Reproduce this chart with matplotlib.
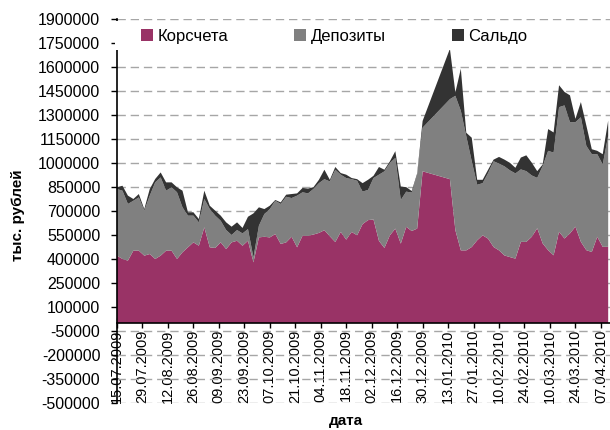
import numpy as np
import pandas as pd
import matplotlib
matplotlib.use("Agg")
import matplotlib.pyplot as plt
from matplotlib.patches import Patch, Rectangle
from matplotlib.ticker import FuncFormatter
import matplotlib.dates as mdates

plt.rcParams['font.family'] = ['Liberation Sans', 'DejaVu Sans']

# dates: every 3 days, new year holidays have no data
all_dates = pd.date_range('2009-07-15', '2010-04-11', freq='3D')
dates = all_dates[(all_dates <= '2009-12-30') | (all_dates >= '2010-01-13')]

# stacked tops, thousands of rubles
korr_top = [421, 400, 390, 452, 452, 421, 431, 400, 421, 452, 452, 400, 442, 473, 504, 483,
            598, 473, 469, 504, 462, 504, 514, 483, 514, 379, 535, 539, 535, 556, 494, 504,
            539, 473, 546, 545, 553, 563, 580, 542, 506, 569, 521, 569, 548, 618, 643, 647,
            513, 469, 548, 590, 496, 601, 575, 590, 948,
            899, 580, 454, 454, 475, 517, 548, 527, 475, 454, 422, 412, 402, 507, 507, 539,
            592, 497, 455, 423, 570, 528, 560, 602, 507, 455, 444, 539, 476, 476]
dep_top = [837, 827, 744, 764, 785, 702, 796, 879, 910, 827, 848, 817, 723, 671, 671, 629,
           775, 712, 671, 639, 581, 550, 581, 560, 587, 410, 608, 681, 712, 764, 744, 789,
           781, 796, 817, 810, 838, 874, 899, 885, 958, 927, 906, 899, 889, 821, 832, 906,
           927, 948, 1000, 1032, 769, 821, 815, 927, 1221,
           1399, 1420, 1326, 1168, 1011, 864, 874, 937, 1011, 996, 979, 954, 935, 960, 949, 922,
           907, 981, 1076, 1065, 1349, 1360, 1255, 1255, 1286, 1107, 1055, 1055, 991, 1170]
total_top = [848, 858, 796, 775, 806, 712, 837, 900, 941, 879, 879, 848, 827, 692, 692, 650,
             827, 733, 702, 671, 629, 602, 629, 594, 664, 685, 723, 712, 733, 769, 754, 802,
             806, 810, 844, 840, 849, 895, 958, 895, 975, 937, 927, 906, 899, 874, 895, 920,
             975, 958, 1010, 1074, 853, 849, 825, 935, 1263,
             1714, 1441, 1589, 1189, 1158, 895, 895, 958, 1021, 1038, 1021, 1001, 970, 1034, 1048, 1002,
             949, 991, 1212, 1191, 1486, 1444, 1423, 1276, 1381, 1234, 1086, 1076, 1055, 1265]

korr = [k * 1000 for k in korr_top]
dep = [(d - k) * 1000 for d, k in zip(dep_top, korr_top)]
saldo = [(t - d) * 1000 for t, d in zip(total_top, dep_top)]

labels = ['Корсчета', 'Депозиты', 'Сальдо']
colors = ['#993366', '#808080', '#333333']
tick_dates = pd.date_range('2009-07-15', '2010-04-07', freq='14D')
y_ticks = np.arange(-500000, 1900001, 150000)

fig = plt.figure(figsize=(6.1, 4.3), dpi=100)
ax = fig.add_axes([117 / 610, 1 - 403 / 430, 493 / 610, 384 / 430])

ax.stackplot(dates, korr, dep, saldo, colors=colors, linewidth=0)

ax.set_ylim(-500000, 1900000)
ax.set_xlim(pd.Timestamp('2009-07-15'), pd.Timestamp('2010-04-12'))
ax.set_yticks(y_ticks)
ax.yaxis.set_major_formatter(FuncFormatter(lambda v, p: f'{v:.0f}'))
ax.set_xticks(tick_dates)
ax.xaxis.set_major_formatter(mdates.DateFormatter('%d.%m.%Y'))

ax.grid(axis='y', color='#a6a6a6', linestyle=(0, (6, 3.5)), linewidth=1)
ax.set_axisbelow(True)

for s in ['top', 'right']:
    ax.spines[s].set_visible(False)
ax.spines['bottom'].set_position(('data', 0))
ax.spines['bottom'].set_linewidth(1.2)
ax.spines['left'].set_linewidth(1.2)

ax.tick_params(axis='y', direction='out', length=4, width=1, pad=8, labelsize=11.5)
ax.tick_params(axis='x', direction='inout', length=7, width=1, pad=1, labelsize=10.5,
               labelrotation=90)

# legend sits on a white band over the top of the plot
fig.add_artist(Rectangle((115 / 610, 1 - 50 / 430), 500 / 610, 29 / 430,
                         transform=fig.transFigure, facecolor='white', edgecolor='none', zorder=3))
handles = [Patch(facecolor=c, edgecolor='none') for c in colors]
fig.legend(handles, labels, loc='center left', bbox_to_anchor=(141 / 610, 1 - 36 / 430),
           ncol=3, frameon=False, fontsize=12, handlelength=0.7, handleheight=0.7,
           handletextpad=0.3, columnspacing=3.95, borderaxespad=0, borderpad=0)

fig.text(18 / 610, 1 - 215 / 430, 'тыс. рублей', rotation=90, ha='center', va='center',
         fontsize=11, fontweight='bold')
fig.text(346 / 610, 1 - 421 / 430, 'дата', ha='center', va='center',
         fontsize=11, fontweight='bold')

fig.savefig('out.png', dpi=100)
